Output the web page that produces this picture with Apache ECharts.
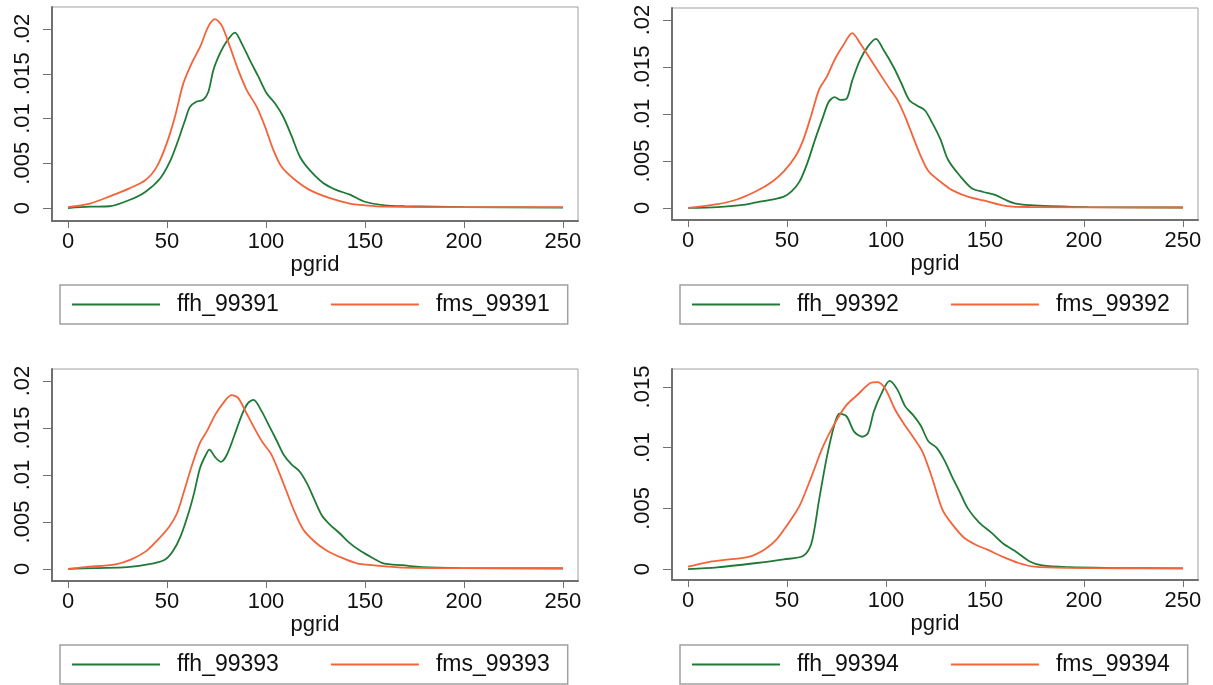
<!DOCTYPE html>
<html>
<head>
<meta charset="utf-8">
<script src="https://cdn.jsdelivr.net/npm/echarts@6/dist/echarts.min.js"></script>
<style>
html,body{margin:0;padding:0;background:#fff;}
#c{width:1213px;height:685px;}
</style>
</head>
<body>
<div id="c"></div>
<script>
// ---- data (pgrid, density) ----
const xTicks = [0, 50, 100, 150, 200, 250];
const yTicksA = [0, 0.005, 0.01, 0.015, 0.02];
const yTicksB = [0, 0.005, 0.01, 0.015];
const seriesNames = [
  ['ffh_99391', 'fms_99391'],
  ['ffh_99392', 'fms_99392'],
  ['ffh_99393', 'fms_99393'],
  ['ffh_99394', 'fms_99394']
];

const ffh_99391 = [[0,0],[11,0.00015],[21,0.0002],[31,0.0009],[39,0.0018],[46.5,0.0033],[51.5,0.0052],[55.7,0.0076],[59.1,0.0098],[61.6,0.0113],[65,0.0119],[68.3,0.0121],[70.9,0.013],[73.4,0.0154],[76.8,0.0173],[80.1,0.0186],[84.3,0.0196],[87.7,0.0184],[91.9,0.0165],[96.1,0.0147],[100.4,0.0128],[104.5,0.0117],[108.7,0.0102],[113,0.008],[117.2,0.0057],[122.2,0.0042],[128.9,0.0028],[135.7,0.002],[142.4,0.0015],[150,0.0007],[160,0.0003],[170,0.0002],[200,0.0001],[250,0.00005]];
const fms_99391 = [[0,0.0001],[11,0.0005],[21,0.0013],[31,0.0022],[39,0.0031],[44.8,0.0046],[49.8,0.0072],[54,0.0102],[58.2,0.0139],[62.5,0.0162],[66.7,0.018],[70.9,0.0203],[74.2,0.0211],[77.6,0.0204],[81.8,0.018],[86,0.0154],[90.2,0.0132],[95.3,0.0113],[99.5,0.0091],[103.7,0.0065],[107.9,0.0046],[113.8,0.0033],[122.2,0.002],[132.3,0.0011],[142.4,0.0005],[150,0.0003],[160,0.00015],[200,0.0001],[250,0.0001]];

const ffh_99392 = [[0,0],[15,0.0001],[26.7,0.0003],[34.6,0.0006],[42.5,0.0009],[48.4,0.0012],[52.4,0.0018],[56.3,0.0028],[60.3,0.0048],[64.2,0.0073],[68.2,0.0097],[71.1,0.0113],[74.1,0.0118],[77,0.0115],[80,0.0116],[83,0.0136],[87,0.0158],[90.9,0.0172],[94.9,0.018],[98.8,0.0168],[103.8,0.015],[107.7,0.0133],[111.7,0.0115],[115.6,0.0109],[119.6,0.0104],[123.5,0.009],[127.5,0.0073],[131.4,0.0051],[137.4,0.0034],[143.3,0.0021],[149.2,0.0017],[155.1,0.0014],[160,0.0009],[165,0.0005],[173,0.0003],[183,0.0002],[202,0.0001],[250,0.00005]];
const fms_99392 = [[0,0],[14.8,0.0004],[24.7,0.0009],[34.6,0.0018],[42.5,0.0028],[48.4,0.0039],[54.3,0.0055],[58.3,0.0073],[62.3,0.0099],[66.2,0.0126],[70.2,0.014],[74.1,0.0158],[78.1,0.0172],[83,0.0186],[87,0.0175],[91.9,0.0159],[96.8,0.0143],[101.8,0.0127],[105.7,0.0115],[109.7,0.0097],[113.6,0.0076],[117.6,0.0055],[121.5,0.0039],[127.5,0.0028],[133.4,0.0019],[141.3,0.0012],[149.2,0.0008],[161,0.0002],[173,0.0001],[250,0.00005]];

const ffh_99393 = [[0,0],[14.3,0.0001],[29.8,0.0002],[43.3,0.0006],[49.1,0.001],[53,0.0019],[56.9,0.0035],[60.8,0.0059],[63.7,0.0081],[66.6,0.0107],[69.5,0.0121],[71.4,0.0127],[74.3,0.0119],[77.2,0.0114],[80.1,0.0121],[84,0.0142],[87.8,0.0164],[90.7,0.0176],[93.7,0.018],[97.5,0.0169],[101.4,0.0153],[105.3,0.0137],[109.1,0.0121],[113,0.0111],[116.9,0.0104],[120.7,0.0091],[124.6,0.0073],[128.5,0.0056],[132.4,0.0047],[137.2,0.0038],[142,0.0028],[147.8,0.0019],[153.6,0.0012],[159.4,0.0006],[169,0.0004],[178.8,0.0002],[198,0.0001],[250,0.00005]];
const fms_99393 = [[0,0],[8.5,0.0002],[24,0.0005],[31.7,0.001],[39.5,0.0019],[45.3,0.0031],[51.1,0.0045],[55,0.0059],[58.8,0.0084],[62.7,0.0111],[66.6,0.0134],[70.5,0.0148],[74.3,0.0164],[78.2,0.0176],[82.5,0.0185],[85.9,0.0182],[89.8,0.0167],[94.6,0.0148],[98.5,0.0134],[102.4,0.0123],[106.2,0.0105],[110.1,0.0084],[114,0.0063],[118.8,0.0042],[124.6,0.0029],[130.4,0.002],[138.2,0.0012],[145.9,0.0006],[153.6,0.0004],[169,0.00015],[200,0.0001],[250,0.0001]];

const ffh_99394 = [[0,0],[14.8,0.00014],[34.6,0.0005],[48.4,0.0008],[58.3,0.0011],[62.3,0.0021],[66.2,0.0057],[70.2,0.0093],[74.1,0.012],[76.5,0.0128],[80,0.0126],[84,0.0113],[88,0.0109],[90.9,0.0112],[93.9,0.013],[97.8,0.0145],[101.8,0.0155],[105.7,0.0148],[109.7,0.0134],[113.6,0.0127],[117.6,0.0118],[121.5,0.0105],[125.5,0.01],[129.4,0.009],[133.4,0.0076],[137.4,0.0063],[141.3,0.005],[147.2,0.0038],[153.2,0.003],[159.1,0.0021],[165,0.0015],[172.9,0.0006],[178.9,0.0003],[192.7,0.00016],[212.5,0.0001],[250,0.00005]];
const fms_99394 = [[0,0.0002],[10.9,0.0006],[20.8,0.0008],[30.6,0.001],[38.5,0.0016],[44.5,0.0024],[50.4,0.0037],[56.3,0.0052],[62.3,0.0076],[68.2,0.0101],[74.1,0.012],[80,0.0135],[85.9,0.0144],[91.9,0.0153],[95.8,0.0154],[99.8,0.0148],[104.7,0.0131],[109.7,0.0118],[113.6,0.0109],[118.6,0.0096],[123.5,0.0074],[128.5,0.0049],[133.4,0.0037],[139.3,0.0026],[145.3,0.002],[151.2,0.0016],[159.1,0.001],[166.9,0.0005],[174.9,0.0002],[192.7,0.0001],[250,0.00005]];

const ffhData = [ffh_99391, ffh_99392, ffh_99393, ffh_99394];
const fmsData = [fms_99391, fms_99392, fms_99393, fms_99394];

// ---- layout / style ----
const GREEN = '#1f7a36';
const ORANGE = '#f4633a';
const FONT = 'Liberation Sans, Arial, Helvetica, sans-serif';
const panels = [
  {grid:{left:52, top:7, width:526, height:214}, ymin:-0.00145, ymax:0.02246, yt:yTicksA, leg:{left:60, top:285}},
  {grid:{left:672, top:8, width:526, height:212}, ymin:-0.00128, ymax:0.02128, yt:yTicksA, leg:{left:680, top:285}},
  {grid:{left:52, top:369, width:526, height:212}, ymin:-0.00128, ymax:0.02128, yt:yTicksA, leg:{left:60, top:645}},
  {grid:{left:672, top:369, width:526, height:211}, ymin:-0.0009, ymax:0.01648, yt:yTicksB, leg:{left:680, top:645}}
];

const fmtY = v => v === 0 ? '0' : String(+v.toFixed(4)).replace(/^0/, '');

const option = {
  animation:false,
  backgroundColor:'#fff',
  textStyle:{fontFamily:FONT},
  grid:[], xAxis:[], yAxis:[], legend:[], series:[]
};

panels.forEach((p, i) => {
  option.grid.push(Object.assign({show:true, borderColor:'#a0a0a0', borderWidth:1, backgroundColor:'#fff'}, p.grid));
  option.xAxis.push({
    type:'value', gridIndex:i, min:-8.1, max:257.6,
    name:'pgrid', nameLocation:'middle', nameGap:31,
    nameTextStyle:{fontSize:22, color:'#111', fontFamily:FONT},
    splitLine:{show:false},
    axisLine:{show:true, onZero:false, lineStyle:{color:'#707070', width:2}},
    axisTick:{show:true, length:7, customValues:xTicks, lineStyle:{color:'#707070', width:1}},
    axisLabel:{customValues:xTicks, fontSize:22, color:'#111', margin:10, fontFamily:FONT}
  });
  option.yAxis.push({
    type:'value', gridIndex:i, min:p.ymin, max:p.ymax,
    splitLine:{show:false},
    axisLine:{show:true, onZero:false, lineStyle:{color:'#707070', width:2}},
    axisTick:{show:true, length:9, customValues:p.yt, lineStyle:{color:'#707070', width:1}},
    axisLabel:{customValues:p.yt, rotate:90, fontSize:22, color:'#111', margin:18, fontFamily:FONT, formatter:fmtY}
  });
  const names = seriesNames[i];
  option.legend.push({
    left:p.leg.left, top:p.leg.top, orient:'horizontal',
    data:names.map(n => ({name:n, icon:'rect'})), selectedMode:false,
    itemWidth:88, itemHeight:2, itemGap:52,
    padding:[8,18,8,12],
    borderColor:'#a0a0a0', borderWidth:1.5, borderRadius:0,
    textStyle:{fontSize:23, color:'#111', fontFamily:FONT, padding:[0,0,0,12]}
  });
  option.series.push({
    name:names[0], type:'line', xAxisIndex:i, yAxisIndex:i,
    data:ffhData[i], symbol:'none', smooth:0.3,
    lineStyle:{color:GREEN, width:1.8}, itemStyle:{color:GREEN}, z:2
  });
  option.series.push({
    name:names[1], type:'line', xAxisIndex:i, yAxisIndex:i,
    data:fmsData[i], symbol:'none', smooth:0.3,
    lineStyle:{color:ORANGE, width:1.8}, itemStyle:{color:ORANGE}, z:3
  });
});

const chart = echarts.init(document.getElementById('c'), null, {renderer:'canvas'});
chart.setOption(option);
</script>
</body>
</html>
